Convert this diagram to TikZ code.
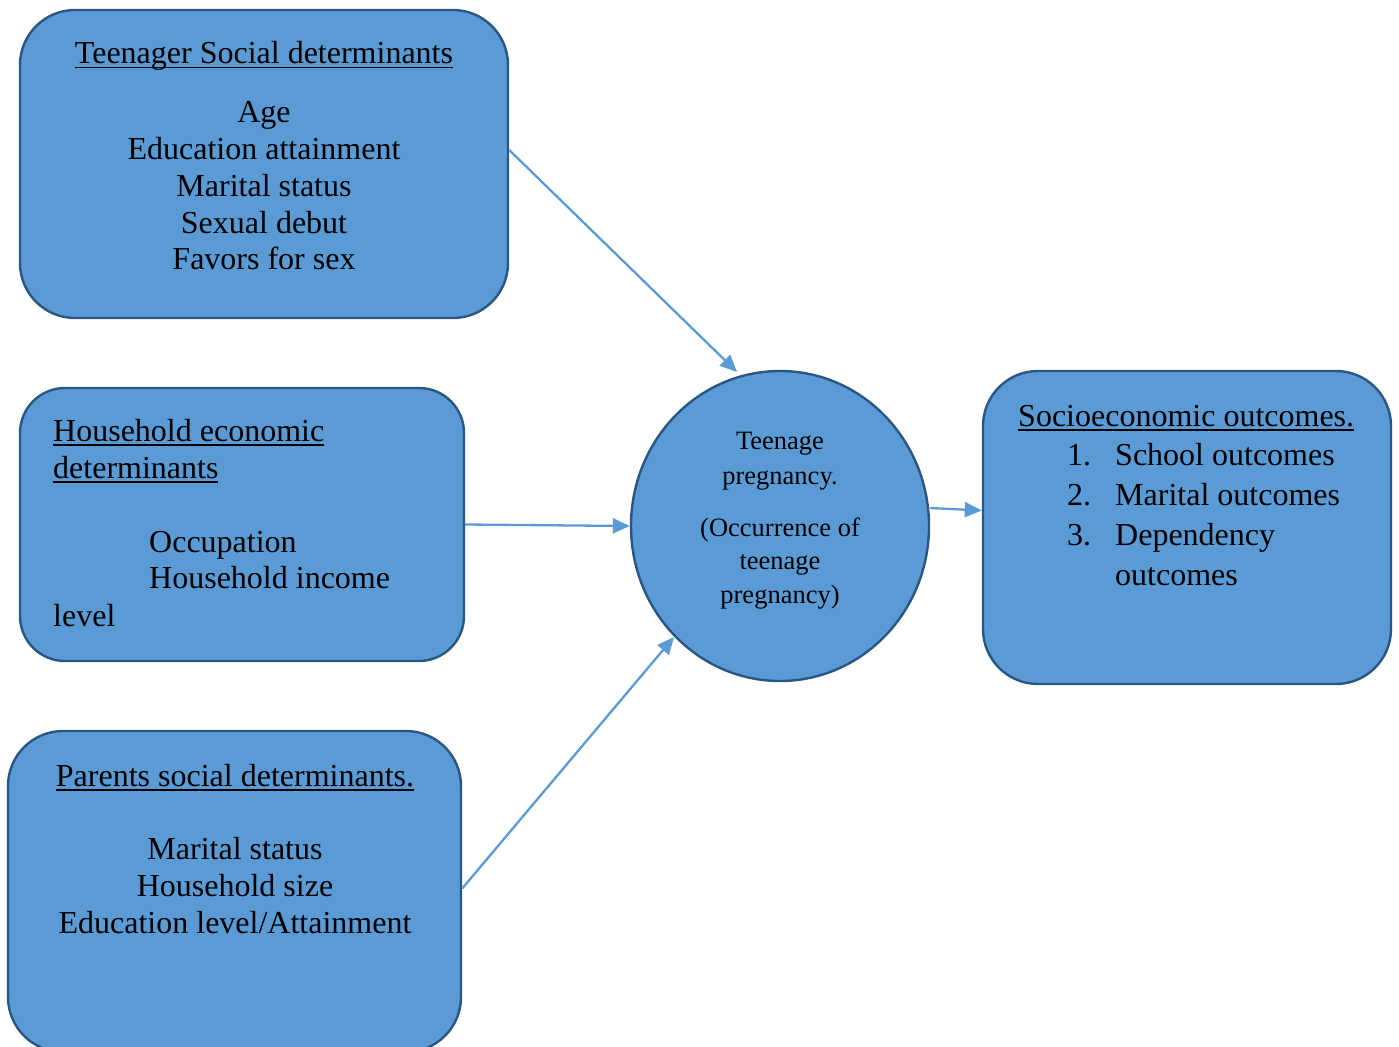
\documentclass[tikz,border=0pt]{standalone}
\usepackage{fontspec}
\setmainfont{Liberation Serif}
\usetikzlibrary{arrows.meta,shapes.geometric}
\definecolor{boxfill}{HTML}{5B9BD5}
\definecolor{boxline}{HTML}{2A5684}
\definecolor{arrowc}{HTML}{5B9BD5}
% underline at a fixed depth, passing over descenders
\newcommand\myul[1]{\setbox0\hbox{#1}\rlap{\rule[-4.5pt]{\wd0}{1.8pt}}\box0}
\begin{document}
\begin{tikzpicture}[x=1pt,y=-1pt,
  box/.style={draw=boxline, line width=2.4pt, fill=boxfill, rounded corners=#1, inner sep=0pt},
  txt/.style={anchor=base, inner sep=0pt, font=\fontsize{32}{37}\selectfont},
  txtl/.style={anchor=base west, inner sep=0pt, font=\fontsize{32}{37}\selectfont},
  ctxt/.style={anchor=base, inner sep=0pt, font=\fontsize{26.5}{33}\selectfont},
  conn/.style={draw=arrowc, line width=2.3pt, -{Triangle[length=17pt,width=15pt]}}]
\useasboundingbox (0,0) rectangle (1399,1046);
\begin{scope}
\clip (0,0) rectangle (1399,1046);

% boxes and central ellipse
\node[box=55pt, minimum width=488pt, minimum height=308pt] (b1) at (264,164) {};
\node[box=45pt, minimum width=444pt, minimum height=273pt] (b2) at (242,524.5) {};
\node[box=55pt, minimum width=453pt, minimum height=321pt] (b3) at (234.5,891.5) {};
\node[box=55pt, minimum width=408pt, minimum height=313pt] (b4) at (1187,527.5) {};
\node[draw=boxline, line width=2.4pt, fill=boxfill, ellipse, inner sep=0pt,
      minimum width=298pt, minimum height=310pt] (c) at (780,526) {};

% teenager social determinants
\node[txt] (t1) at (264,64) {\myul{Teenager Social determinants}};
\node[txt] (t1a) at (264,122) {Age};
\node[txt] (t1b) at (264,159) {Education attainment};
\node[txt] (t1c) at (264,196) {Marital status};
\node[txt] (t1d) at (264,233) {Sexual debut};
\node[txt] (t1e) at (264,269) {Favors for sex};

% household economic determinants
\node[txtl] (t2) at (53,441) {\myul{Household economic}};
\node[txtl] (t2x) at (53,478) {\myul{determinants}};
\node[txtl] (t2a) at (149,552) {Occupation};
\node[txtl] (t2b) at (149,588) {Household income};
\node[txtl] (t2c) at (53,626) {level};

% parents social determinants
\node[txt] (t3) at (235,786) {\myul{Parents social determinants.}};
\node[txt] (t3a) at (235,859) {Marital status};
\node[txt] (t3b) at (235,896) {Household size};
\node[txt] (t3c) at (235,933) {Education level/Attainment};

% socioeconomic outcomes
\node[txtl] (t4) at (1018,426) {\myul{Socioeconomic outcomes.}};
\node[txtl] (n1) at (1067,465) {1.};
\node[txtl] (n2) at (1067,505) {2.};
\node[txtl] (n3) at (1067,545) {3.};
\node[txtl] (t4a) at (1115,465) {School outcomes};
\node[txtl] (t4b) at (1115,505) {Marital outcomes};
\node[txtl] (t4c) at (1115,545) {Dependency};
\node[txtl] (t4d) at (1115,585) {outcomes};

% central outcome
\node[ctxt] (c1) at (780,449) {Teenage};
\node[ctxt] (c2) at (780,484) {pregnancy.};
\node[ctxt] (c3) at (780,536) {(Occurrence of};
\node[ctxt] (c4) at (780,569) {teenage};
\node[ctxt] (c5) at (780,603) {pregnancy)};

% connectors
\coordinate (a1s) at ([yshift=14pt]b1.east);
\coordinate (a1e) at ([shift={(-43,-154)}]c.center);
\coordinate (a3s) at ([yshift=3pt]b3.east);
\coordinate (a3e) at ([shift={(-106,111)}]c.center);
\coordinate (a4s) at ([yshift=18pt]c.east);
\coordinate (a4e) at ([yshift=17pt]b4.west);
\draw[conn] (a1s) -- (a1e);
\draw[conn] (b2.east) -- (c.west);
\draw[conn] (a3s) -- (a3e);
\draw[conn] (a4s) -- (a4e);
\end{scope}
\end{tikzpicture}
\end{document}
